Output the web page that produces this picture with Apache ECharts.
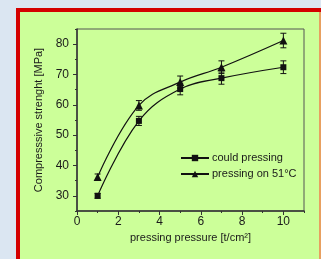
<!DOCTYPE html>
<html>
<head>
<meta charset="utf-8">
<script src="https://cdn.jsdelivr.net/npm/echarts@6/dist/echarts.min.js"></script>
<style>
  html, body { margin: 0; padding: 0; background: #dbe6f2; }
  #chart { width: 321px; height: 259px; }
</style>
</head>
<body>
<div id="chart"></div>
<script>
// pressing pressure [t/cm2]
const pressure = [1, 3, 5, 7, 10];
// could pressing
const coldValues = [30, 54.7, 65.2, 68.8, 72.4];
const coldErr = [0.8, 1.5, 1.9, 2.0, 2.1];
// pressing on 51 C
const warmValues = [36.2, 59.8, 67.5, 72.4, 81.2];
const warmErr = [1.0, 1.6, 2.0, 2.1, 2.4];

const yLabelTicks = [30, 40, 50, 60, 70, 80];
const yMinorTicks = [25, 35, 45, 55, 65, 75, 85];
const xLabelTicks = [0, 2, 4, 6, 8, 10];
const xMinorTicks = [1, 3, 5, 7, 9, 11];

const txt = "#1a1a1a";
const font = "Liberation Sans";

const chart = echarts.init(document.getElementById("chart"));

function pairs(xs, ys) {
  return xs.map((x, i) => [x, ys[i]]);
}
function errData(xs, ys, es) {
  return xs.map((x, i) => [x, ys[i] - es[i], ys[i] + es[i]]);
}
// error bar with small caps
function renderErr(params, api) {
  const x = api.value(0);
  const lo = api.coord([x, api.value(1)]);
  const hi = api.coord([x, api.value(2)]);
  const w = 3;
  const st = { stroke: "#111", lineWidth: 1 };
  return {
    type: "group",
    children: [
      { type: "line", shape: { x1: lo[0], y1: lo[1], x2: hi[0], y2: hi[1] }, style: st },
      { type: "line", shape: { x1: hi[0] - w, y1: hi[1], x2: hi[0] + w, y2: hi[1] }, style: st },
      { type: "line", shape: { x1: lo[0] - w, y1: lo[1], x2: lo[0] + w, y2: lo[1] }, style: st }
    ]
  };
}

const option = {
  animation: false,
  backgroundColor: "#dbe6f2",
  textStyle: { fontFamily: font },
  graphic: [
    { type: "rect", z: -10, shape: { x: 16, y: 8, width: 305, height: 251 }, style: { fill: "#ccff99" } },
    { type: "rect", z: -9, shape: { x: 16, y: 8, width: 305, height: 4 }, style: { fill: "#d40000" } },
    { type: "rect", z: -9, shape: { x: 16, y: 8, width: 4, height: 251 }, style: { fill: "#d40000" } },
    { type: "rect", z: -9, shape: { x: 319, y: 12, width: 2, height: 247 }, style: { fill: "#e8a060" } }
  ],
  grid: {
    left: 77, right: 17, top: 29, bottom: 48,
    show: true, borderColor: "#555", borderWidth: 1
  },
  legend: {
    left: 180, top: 152, orient: "vertical", padding: 0,
    itemWidth: 28, itemHeight: 8, itemGap: 4,
    textStyle: { color: txt, fontSize: 11, fontFamily: font, lineHeight: 12, padding: [0, 0, 0, -2] },
    data: ["could pressing", "pressing on 51°C"]
  },
  xAxis: [
    {
      type: "value", min: 0, max: 11,
      name: "pressing pressure [t/cm²]", nameLocation: "middle", nameGap: 19,
      nameTextStyle: { color: txt, fontSize: 11 },
      axisLine: { show: true, lineStyle: { color: "#333", width: 1.5 } },
      axisTick: { show: true, length: 4, customValues: xLabelTicks, lineStyle: { color: "#333" } },
      axisLabel: { color: txt, fontSize: 12, margin: 5, customValues: xLabelTicks },
      splitLine: { show: false }
    },
    {
      type: "value", min: 0, max: 11, position: "bottom",
      axisLine: { show: false },
      axisTick: { show: true, length: 2, customValues: xMinorTicks, lineStyle: { color: "#333" } },
      axisLabel: { show: false },
      splitLine: { show: false }
    }
  ],
  yAxis: [
    {
      type: "value", min: 25, max: 85,
      name: "Compresssive strenght [MPa]", nameLocation: "middle", nameGap: 28,
      nameTextStyle: { color: txt, fontSize: 11 },
      axisLine: { show: true, lineStyle: { color: "#333", width: 1.5 } },
      axisTick: { show: true, length: 4, customValues: yLabelTicks, lineStyle: { color: "#333" } },
      axisLabel: { color: txt, fontSize: 12, margin: 8, customValues: yLabelTicks },
      splitLine: { show: false }
    },
    {
      type: "value", min: 25, max: 85, position: "left",
      axisLine: { show: false },
      axisTick: { show: true, length: 2, customValues: yMinorTicks, lineStyle: { color: "#333" } },
      axisLabel: { show: false },
      splitLine: { show: false }
    }
  ],
  series: [
    {
      name: "could pressing", type: "line", smooth: 0.4,
      data: pairs(pressure, coldValues),
      symbol: "rect", symbolSize: 6,
      itemStyle: { color: "#111" },
      lineStyle: { color: "#111", width: 1.2 }
    },
    {
      name: "pressing on 51°C", type: "line", smooth: 0.4,
      data: pairs(pressure, warmValues),
      symbol: "triangle", symbolSize: 8,
      itemStyle: { color: "#111" },
      lineStyle: { color: "#111", width: 1.2 }
    },
    {
      type: "custom", renderItem: renderErr, silent: true,
      data: errData(pressure, coldValues, coldErr), z: 3
    },
    {
      type: "custom", renderItem: renderErr, silent: true,
      data: errData(pressure, warmValues, warmErr), z: 3
    }
  ]
};

chart.setOption(option);
</script>
</body>
</html>
